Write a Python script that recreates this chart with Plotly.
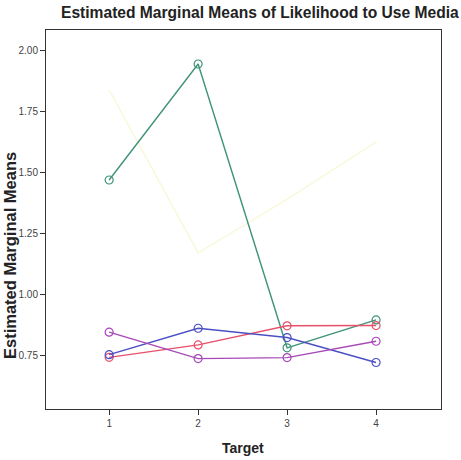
import plotly.graph_objects as go

targets = [1, 2, 3, 4]
green = [1.469, 1.943, 0.783, 0.897]
red = [0.744, 0.795, 0.873, 0.874]
blue = [0.755, 0.863, 0.825, 0.723]
purple = [0.847, 0.739, 0.743, 0.810]
yellow = [1.837, 1.171, 1.39, 1.624]
y_ticks = [0.75, 1.00, 1.25, 1.50, 1.75, 2.00]

fig = go.Figure()

series = [
    (yellow, "#f7f7d2", 1.2, 0),
    (green, "#3f9478", 1.4, 8),
    (red, "#e8506a", 1.4, 8),
    (blue, "#4a4fc4", 1.4, 8),
    (purple, "#a748b8", 1.4, 8),
]
for vals, col, w, ms in series:
    fig.add_trace(go.Scatter(
        x=targets, y=vals, mode="lines+markers" if ms else "lines",
        line=dict(color=col, width=w),
        marker=dict(symbol="circle-open", size=ms, color=col, line=dict(width=1.2)),
        showlegend=False, hoverinfo="skip",
    ))

fig.update_layout(
    width=461, height=460,
    margin=dict(l=46, r=20, t=30, b=51),
    paper_bgcolor="white", plot_bgcolor="white",
    font=dict(family="Liberation Sans, Arial, sans-serif", color="#333"),
    xaxis=dict(
        range=[0.29, 4.73], tickvals=targets, ticktext=[str(t) for t in targets],
        showgrid=False, zeroline=False, showline=True, linecolor="#333", linewidth=1,
        mirror=True, ticks="outside", ticklen=5, tickcolor="#333",
        tickfont=dict(size=10, color="#444"),
    ),
    yaxis=dict(
        range=[0.533, 2.082], tickvals=y_ticks, tickformat=".2f",
        showgrid=False, zeroline=False, showline=True, linecolor="#333", linewidth=1,
        mirror=True, ticks="outside", ticklen=5, tickcolor="#333",
        tickfont=dict(size=10, color="#444"),
    ),
    annotations=[
        dict(text="<b>Estimated Marginal Means of Likelihood to Use Media</b>",
             xref="paper", yref="paper", x=(260 - 46) / 395, y=1, yshift=18,
             xanchor="center", yanchor="middle", showarrow=False,
             font=dict(size=15.6, color="#222")),
        dict(text="<b>Estimated Marginal Means</b>",
             xref="paper", yref="paper", x=0, xshift=-36, y=(409 - 256) / 379,
             xanchor="center", yanchor="middle", textangle=-90, showarrow=False,
             font=dict(size=16.5, color="#222")),
        dict(text="<b>Target</b>",
             xref="paper", yref="paper", x=(243 - 46) / 395, y=0, yshift=-39,
             xanchor="center", yanchor="middle", showarrow=False,
             font=dict(size=14, color="#222")),
    ],
)

fig.write_html("out.html")
